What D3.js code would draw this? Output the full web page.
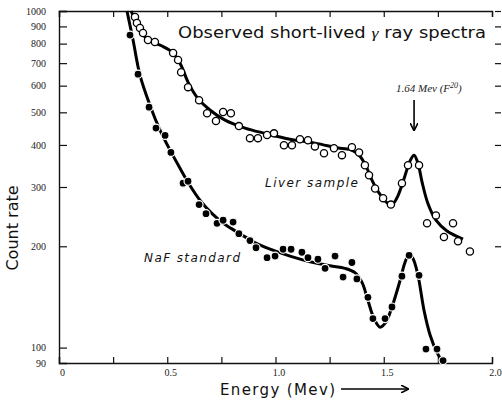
<!DOCTYPE html>
<html>
<head>
<meta charset="utf-8">
<script src="https://cdn.jsdelivr.net/npm/d3@7"></script>
<style>
  body { margin: 0; background: #fff; }
  svg { display: block; }
</style>
</head>
<body>
<script>
const width = 502, height = 402;
const margin = {top: 11, right: 10, bottom: 39, left: 59};

// axis ticks
const xTicks = [0, 0.25, 0.5, 0.75, 1.0, 1.25, 1.5, 1.75, 2.0];
const xLabels = {0: '0', 0.5: '0.5', 1: '1.0', 1.5: '1.5', 2: '2.0'};
const yTicks = [90, 100, 200, 300, 400, 500, 600, 700, 800, 900, 1000];

// liver sample: open circles [energy, count rate]
const liverPts = [
  [0.351, 960], [0.360, 921], [0.374, 890], [0.388, 860], [0.411, 820], [0.443, 809],
  [0.527, 750], [0.550, 715], [0.564, 658], [0.596, 594], [0.647, 543], [0.684, 497],
  [0.725, 471], [0.758, 501], [0.794, 497], [0.831, 455], [0.882, 419], [0.919, 419],
  [0.961, 428], [0.993, 433], [1.039, 399], [1.076, 399], [1.113, 416], [1.150, 413],
  [1.182, 396], [1.224, 378], [1.270, 391], [1.307, 373], [1.353, 394], [1.386, 380],
  [1.413, 348], [1.432, 325], [1.460, 297], [1.497, 278], [1.533, 266], [1.584, 308],
  [1.612, 348], [1.663, 348], [1.700, 234], [1.741, 247], [1.778, 213], [1.820, 234],
  [1.843, 207], [1.898, 193]
];
// liver sample: drawn fit
const liverFit = [
  [0.333, 1000], [0.356, 927], [0.388, 848], [0.430, 809], [0.476, 787], [0.522, 755],
  [0.559, 700], [0.596, 615], [0.637, 555], [0.697, 508], [0.767, 474], [0.859, 449],
  [0.952, 433], [1.067, 416], [1.182, 405], [1.298, 391], [1.353, 386], [1.390, 370],
  [1.418, 346], [1.446, 314], [1.483, 285], [1.520, 268], [1.543, 268], [1.566, 283],
  [1.594, 318], [1.621, 358], [1.640, 373], [1.658, 353], [1.677, 310], [1.704, 268],
  [1.741, 239], [1.792, 222], [1.866, 210]
];

// NaF standard: filled circles
const nafPts = [
  [0.328, 848], [0.365, 649], [0.416, 518], [0.448, 449], [0.490, 427], [0.517, 380],
  [0.573, 308], [0.596, 312], [0.647, 266], [0.679, 250], [0.730, 234], [0.758, 239],
  [0.804, 236], [0.831, 218], [0.882, 208], [0.910, 198], [0.961, 185], [0.998, 187],
  [1.035, 196], [1.072, 196], [1.122, 192], [1.150, 185], [1.196, 183], [1.229, 172],
  [1.275, 187], [1.312, 162], [1.353, 179], [1.376, 160], [1.427, 141], [1.450, 122],
  [1.506, 122], [1.538, 132], [1.584, 163], [1.617, 188], [1.663, 164], [1.695, 99],
  [1.746, 99], [1.774, 91.5]
];
// NaF standard: drawn fit
const nafFit = [
  [0.314, 1000], [0.342, 820], [0.374, 645], [0.420, 525], [0.467, 442], [0.513, 386],
  [0.559, 341], [0.605, 303], [0.651, 274], [0.707, 250], [0.767, 232], [0.836, 218],
  [0.905, 205], [0.975, 196], [1.067, 187], [1.159, 180], [1.252, 175], [1.321, 172],
  [1.367, 167], [1.400, 156], [1.427, 138], [1.455, 122], [1.483, 115], [1.510, 119],
  [1.538, 132], [1.575, 158], [1.598, 179], [1.617, 189], [1.635, 184], [1.658, 164],
  [1.686, 129], [1.714, 109], [1.746, 96.6], [1.774, 90.2]
];

const peakE = 1.64;

const svg = d3.select('body').append('svg')
  .attr('width', width)
  .attr('height', height);

const x = d3.scaleLinear().domain([0, 2]).range([margin.left, 492]);
const y = d3.scaleLog().domain([90, 1000]).range([height - margin.bottom, margin.top]);

const serif = '"Liberation Serif", "DejaVu Serif", serif';
const sans = '"DejaVu Sans", Verdana, sans-serif';

// axes
const gx = svg.append('g')
  .attr('transform', 'translate(0,' + y(90) + ')')
  .call(d3.axisBottom(x).tickValues(xTicks).tickSize(-6).tickPadding(6)
    .tickFormat(d => xLabels[d] !== undefined ? xLabels[d] : ''));
gx.selectAll('text').attr('dx', 3);

const gTop = svg.append('g')
  .attr('transform', 'translate(0,' + y(1000) + ')')
  .call(d3.axisTop(x).tickValues(xTicks).tickSize(-6).tickFormat(''));

const gy = svg.append('g')
  .attr('transform', 'translate(' + x(0) + ',0)')
  .call(d3.axisLeft(y).tickValues(yTicks).tickSize(-8).tickPadding(13)
    .tickFormat(d3.format('d')));

const gRight = svg.append('g')
  .attr('transform', 'translate(495,0)')
  .call(d3.axisRight(y).tickValues(yTicks.filter(d => d > 100)).tickSize(6).tickFormat(''));
gRight.select('.domain').remove();

svg.selectAll('.domain').attr('stroke-width', 1.4).attr('stroke', '#111');
svg.selectAll('.tick line').attr('stroke-width', 1.2).attr('stroke', '#111');
svg.selectAll('.tick text')
  .attr('font-family', serif)
  .attr('font-size', 10)
  .attr('fill', '#222');
gy.select('.tick:first-of-type line').remove();

// curves
const line = d3.line()
  .x(d => x(d[0]))
  .y(d => y(d[1]))
  .curve(d3.curveCatmullRom.alpha(0.5));

svg.append('path')
  .datum(nafFit)
  .attr('d', line)
  .attr('fill', 'none')
  .attr('stroke', '#000')
  .attr('stroke-width', 3);

svg.append('path')
  .datum(liverFit)
  .attr('d', line)
  .attr('fill', 'none')
  .attr('stroke', '#000')
  .attr('stroke-width', 3);

// points
svg.append('g').selectAll('circle')
  .data(nafPts)
  .join('circle')
  .attr('cx', d => x(d[0]))
  .attr('cy', d => y(d[1]))
  .attr('r', 4)
  .attr('fill', '#000')
  .attr('stroke', '#fff')
  .attr('stroke-width', 1.2);

svg.append('g').selectAll('circle')
  .data(liverPts)
  .join('circle')
  .attr('cx', d => x(d[0]))
  .attr('cy', d => y(d[1]))
  .attr('r', 3.6)
  .attr('fill', '#fff')
  .attr('stroke', '#000')
  .attr('stroke-width', 1.3);

// title
const title = svg.append('text')
  .attr('x', 178)
  .attr('y', 38)
  .attr('font-family', sans)
  .attr('font-size', 15)
  .attr('fill', '#111')
  .attr('textLength', 308)
  .attr('lengthAdjust', 'spacingAndGlyphs');
title.append('tspan').text('Observed short-lived ');
title.append('tspan').attr('font-style', 'italic').attr('font-family', serif).text('γ');
title.append('tspan').text(' ray spectra');

// peak annotation
const ann = svg.append('text')
  .attr('x', 396)
  .attr('y', 92)
  .attr('font-family', serif)
  .attr('font-style', 'italic')
  .attr('font-size', 11)
  .attr('fill', '#222');
ann.append('tspan').text('1.64 Mev (F');
ann.append('tspan').attr('dy', -4).attr('font-size', 8).text('20');
ann.append('tspan').attr('dy', 4).text(')');

svg.append('defs').append('marker')
  .attr('id', 'head')
  .attr('viewBox', '0 0 10 10')
  .attr('refX', 9).attr('refY', 5)
  .attr('markerWidth', 8).attr('markerHeight', 8)
  .attr('markerUnits', 'userSpaceOnUse')
  .attr('orient', 'auto')
  .append('path')
  .attr('d', 'M0,0 L10,5 L0,10')
  .attr('fill', 'none')
  .attr('stroke', '#000')
  .attr('stroke-width', 2);

svg.append('line')
  .attr('x1', x(peakE)).attr('x2', x(peakE))
  .attr('y1', 100).attr('y2', 130)
  .attr('stroke', '#000')
  .attr('stroke-width', 1.6)
  .attr('marker-end', 'url(#head)');

// series labels
svg.append('text')
  .attr('x', 265).attr('y', 187)
  .attr('font-family', sans)
  .attr('font-style', 'italic')
  .attr('font-size', 12)
  .attr('fill', '#111')
  .attr('textLength', 93)
  .text('Liver sample');

svg.append('text')
  .attr('x', 144).attr('y', 262)
  .attr('font-family', sans)
  .attr('font-style', 'italic')
  .attr('font-size', 12)
  .attr('fill', '#111')
  .attr('textLength', 96)
  .text('NaF standard');

// axis titles
svg.append('text')
  .attr('transform', 'translate(18,228) rotate(-90)')
  .attr('text-anchor', 'middle')
  .attr('font-family', sans)
  .attr('font-size', 16)
  .attr('fill', '#111')
  .text('Count rate');

svg.append('text')
  .attr('x', 220).attr('y', 395)
  .attr('font-family', sans)
  .attr('font-size', 15)
  .attr('fill', '#111')
  .attr('textLength', 115)
  .text('Energy (Mev)');

svg.append('line')
  .attr('x1', 341).attr('x2', 408)
  .attr('y1', 389).attr('y2', 389)
  .attr('stroke', '#000')
  .attr('stroke-width', 1.6)
  .attr('marker-end', 'url(#head)');
</script>
</body>
</html>
